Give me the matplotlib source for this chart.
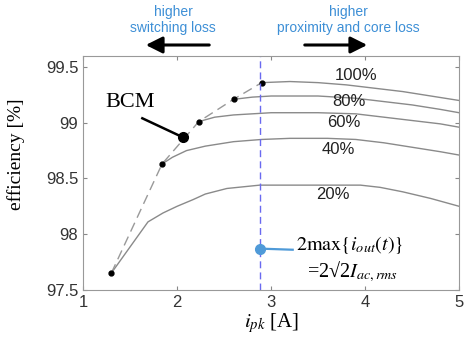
import matplotlib
matplotlib.use("Agg")
import matplotlib.pyplot as plt
from matplotlib.patches import FancyArrowPatch

plt.rcParams["font.family"] = "Liberation Sans"
plt.rcParams["mathtext.fontset"] = "stix"

# Data: efficiency vs peak current for different load levels
x100 = [2.90, 3.2, 3.5, 3.8, 4.1, 4.4, 4.7, 5.0]
y100 = [99.36, 99.37, 99.36, 99.34, 99.31, 99.28, 99.24, 99.20]
x80 = [2.60, 2.8, 3.0, 3.5, 3.9, 4.2, 4.5, 4.8, 5.0]
y80 = [99.21, 99.23, 99.24, 99.24, 99.22, 99.19, 99.16, 99.12, 99.09]
x60 = [2.23, 2.4, 2.6, 3.0, 3.5, 3.9, 4.2, 4.5, 4.8, 5.0]
y60 = [99.01, 99.05, 99.07, 99.09, 99.09, 99.08, 99.05, 99.02, 98.99, 98.96]
x40 = [1.84, 1.95, 2.1, 2.3, 2.6, 2.9, 3.2, 3.6, 3.9, 4.2, 4.5, 4.8, 5.0]
y40 = [98.63, 98.69, 98.75, 98.79, 98.83, 98.85, 98.86, 98.86, 98.85, 98.82, 98.78, 98.74, 98.71]
x20 = [1.30, 1.69, 1.85, 2.0, 2.17, 2.30, 2.53, 2.88, 3.3, 3.95, 4.16, 4.40, 4.7, 5.0]
y20 = [97.65, 98.11, 98.19, 98.25, 98.31, 98.36, 98.41, 98.44, 98.44, 98.44, 98.42, 98.38, 98.32, 98.25]
loads = ["100%", "80%", "60%", "40%", "20%"]
label_x = [3.90, 3.83, 3.77, 3.71, 3.66]
label_y = [99.42, 99.19, 99.00, 98.76, 98.36]

# BCM boundary points
bcm_x = [1.30, 1.84, 2.23, 2.60, 2.90]
bcm_y = [97.65, 98.63, 99.01, 99.21, 99.36]
bcm_pt = (2.06, 98.87)
i_rated = 2.88

fig = plt.figure(figsize=(4.67, 3.43), dpi=100)
ax = fig.add_axes([0.178, 0.155, 0.805, 0.682])

curve_color = "#8a8a8a"
for xs, ys in [(x100, y100), (x80, y80), (x60, y60), (x40, y40), (x20, y20)]:
    ax.plot(xs, ys, color=curve_color, lw=1.0)

ax.plot(bcm_x, bcm_y, color="#999999", lw=1.0, ls=(0, (7, 4)))
ax.plot(bcm_x, bcm_y, "o", color="black", ms=3.5)
ax.plot(*bcm_pt, "o", color="black", ms=7)
ax.text(1.50, 99.18, "BCM", fontsize=16, family="Liberation Serif",
        ha="center", va="center")
ax.plot([1.63, bcm_pt[0]], [99.04, bcm_pt[1]], color="black", lw=1.8)

for lab, lx, ly in zip(loads, label_x, label_y):
    ax.text(lx, ly, lab, fontsize=12, ha="center", va="center", color="#222222")

ax.axvline(i_rated, color="#6a6af0", lw=1.0, ls=(0, (5, 3)))
blue = "#4f9ad8"
ax.plot(i_rated, 97.87, "o", color=blue, ms=7)
ax.plot([i_rated, 3.23], [97.87, 97.86], color=blue, lw=1.6)
ax.text(3.27, 97.90, r"$2\mathrm{max}\{i_{out}(t)\}$", fontsize=14.5,
        ha="left", va="center", family="Liberation Serif")
ax.text(3.38, 97.665, r"=2√2$I_{ac,rms}$", fontsize=14.5,
        ha="left", va="center", family="Liberation Serif")

ax.set_xlim(1, 5)
ax.set_ylim(97.5, 99.6)
ax.set_xticks([1, 2, 3, 4, 5])
ax.set_yticks([97.5, 98, 98.5, 99, 99.5])
ax.set_yticklabels(["97.5", "98", "98.5", "99", "99.5"])
ax.tick_params(direction="in", top=True, right=True, labelsize=12,
               labelcolor="#333333", color="#888888", length=3)
for s in ax.spines.values():
    s.set_color("#999999")

ax.set_xlabel(r"$i_{pk}$ [A]", fontsize=15, family="Liberation Serif", labelpad=1)
ax.set_ylabel("efficiency [%]", fontsize=14, family="Liberation Serif")
ax.yaxis.set_label_coords(-0.155, 0.58)

# Annotations above the axes
top_blue = "#3d8fd6"
fig.text(173 / 467, 1 - 20 / 343, "higher\nswitching loss", color=top_blue,
         fontsize=10, ha="center", va="center", linespacing=1.25)
fig.text(348 / 467, 1 - 20 / 343, "higher\nproximity and core loss", color=top_blue,
         fontsize=10, ha="center", va="center", linespacing=1.25)
for start, end in [(212, 143), (302, 370)]:
    fig.patches.append(FancyArrowPatch(
        (start / 467, 1 - 45 / 343), (end / 467, 1 - 45 / 343),
        transform=fig.transFigure,
        arrowstyle="-|>,head_length=10,head_width=5", color="black", lw=2.2))

fig.savefig("out.png", dpi=100)
